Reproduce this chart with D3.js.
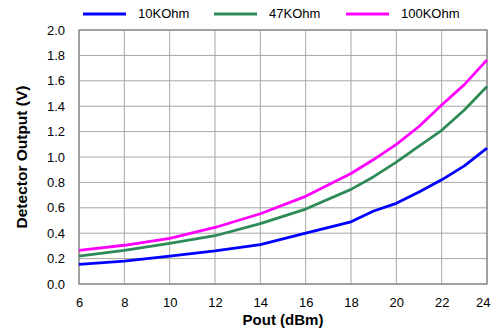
<!DOCTYPE html>
<html>
<head>
<meta charset="utf-8">
<script src="https://cdn.jsdelivr.net/npm/d3@7"></script>
<style>
  body { margin: 0; background: #fff; }
  text { font-family: "Liberation Sans", Arial, sans-serif; }
</style>
</head>
<body>
<div id="chart"></div>
<script>
// Data
var pout = [6, 8, 10, 12, 14, 16, 18, 19, 20, 21, 22, 23, 24];
var ohm10k = [0.155, 0.18, 0.22, 0.26, 0.31, 0.40, 0.49, 0.575, 0.635, 0.725, 0.82, 0.93, 1.07];
var ohm47k = [0.22, 0.265, 0.32, 0.38, 0.475, 0.59, 0.745, 0.845, 0.96, 1.085, 1.21, 1.37, 1.555];
var ohm100k = [0.265, 0.305, 0.36, 0.445, 0.553, 0.69, 0.87, 0.98, 1.10, 1.24, 1.41, 1.57, 1.765];
var seriesNames = ["10KOhm", "47KOhm", "100KOhm"];
var xTicks = [6, 8, 10, 12, 14, 16, 18, 20, 22, 24];
var yTicks = [0, 0.2, 0.4, 0.6, 0.8, 1.0, 1.2, 1.4, 1.6, 1.8, 2.0];

var colors = ["#0000ff", "#2e8b57", "#ff00ff"];
var series = [ohm10k, ohm47k, ohm100k];

var margin = {top: 30, right: 5, bottom: 46, left: 79},
    width = 487 - margin.left,
    height = 284 - margin.top;

var svg = d3.select("#chart")
  .append("svg")
    .attr("width", 492)
    .attr("height", 330)
  .append("g")
    .attr("transform", "translate(" + margin.left + "," + margin.top + ")");

var x = d3.scaleLinear().domain([6, 24]).range([0, width]);
var y = d3.scaleLinear().domain([0, 2]).range([height, 0]);

// Grid
svg.append("g")
  .selectAll("line.v")
  .data(xTicks)
  .enter().append("line")
    .attr("x1", function(d) { return x(d); })
    .attr("x2", function(d) { return x(d); })
    .attr("y1", 0).attr("y2", height)
    .style("stroke", "#a6a6a6").style("stroke-width", 1);
svg.append("g")
  .selectAll("line.h")
  .data(yTicks)
  .enter().append("line")
    .attr("x1", 0).attr("x2", width)
    .attr("y1", function(d) { return y(d); })
    .attr("y2", function(d) { return y(d); })
    .style("stroke", "#a6a6a6").style("stroke-width", 1);

// Frame
svg.append("rect")
  .attr("width", width).attr("height", height)
  .style("fill", "none").style("stroke", "#808080").style("stroke-width", 1.2);

// Axes (labels only)
var xAxis = svg.append("g")
  .attr("transform", "translate(0," + height + ")")
  .call(d3.axisBottom(x).tickValues(xTicks).tickSize(0).tickPadding(14));
var yAxis = svg.append("g")
  .call(d3.axisLeft(y).tickValues(yTicks).tickFormat(d3.format(".1f")).tickSize(0).tickPadding(14));
[xAxis, yAxis].forEach(function(a) {
  a.select(".domain").remove();
  a.selectAll("text")
    .style("font-family", "'Liberation Sans', Arial, sans-serif")
    .style("font-size", "13px")
    .style("fill", "#000");
});
// keep the last x label inside the page
xAxis.selectAll(".tick text")
  .filter(function(d) { return d === 24; })
  .attr("text-anchor", "end")
  .attr("dx", 3);

// Lines
var line = d3.line()
  .x(function(d, i) { return x(pout[i]); })
  .y(function(d) { return y(d); });

series.forEach(function(s, i) {
  svg.append("path")
    .datum(s)
    .attr("d", line)
    .style("fill", "none")
    .style("stroke", colors[i])
    .style("stroke-width", 2.8)
    .style("stroke-linejoin", "round");
});

// Axis titles
svg.append("text")
  .attr("text-anchor", "middle")
  .attr("x", width / 2)
  .attr("y", height + 41)
  .style("font-size", "15px")
  .style("font-weight", "bold")
  .text("Pout (dBm)");

svg.append("text")
  .attr("text-anchor", "middle")
  .attr("transform", "rotate(-90)")
  .attr("x", -height / 2)
  .attr("y", -52)
  .style("font-size", "15.5px")
  .style("font-weight", "bold")
  .text("Detector Output (V)");

// Legend
var legendX = [83, 214, 346];
var legend = d3.select("svg").append("g");
seriesNames.forEach(function(name, i) {
  legend.append("line")
    .attr("x1", legendX[i]).attr("x2", legendX[i] + 43)
    .attr("y1", 14).attr("y2", 14)
    .style("stroke", colors[i]).style("stroke-width", 3);
  legend.append("text")
    .attr("x", legendX[i] + 55)
    .attr("y", 18)
    .style("font-size", "13px")
    .text(name);
});
</script>
</body>
</html>
